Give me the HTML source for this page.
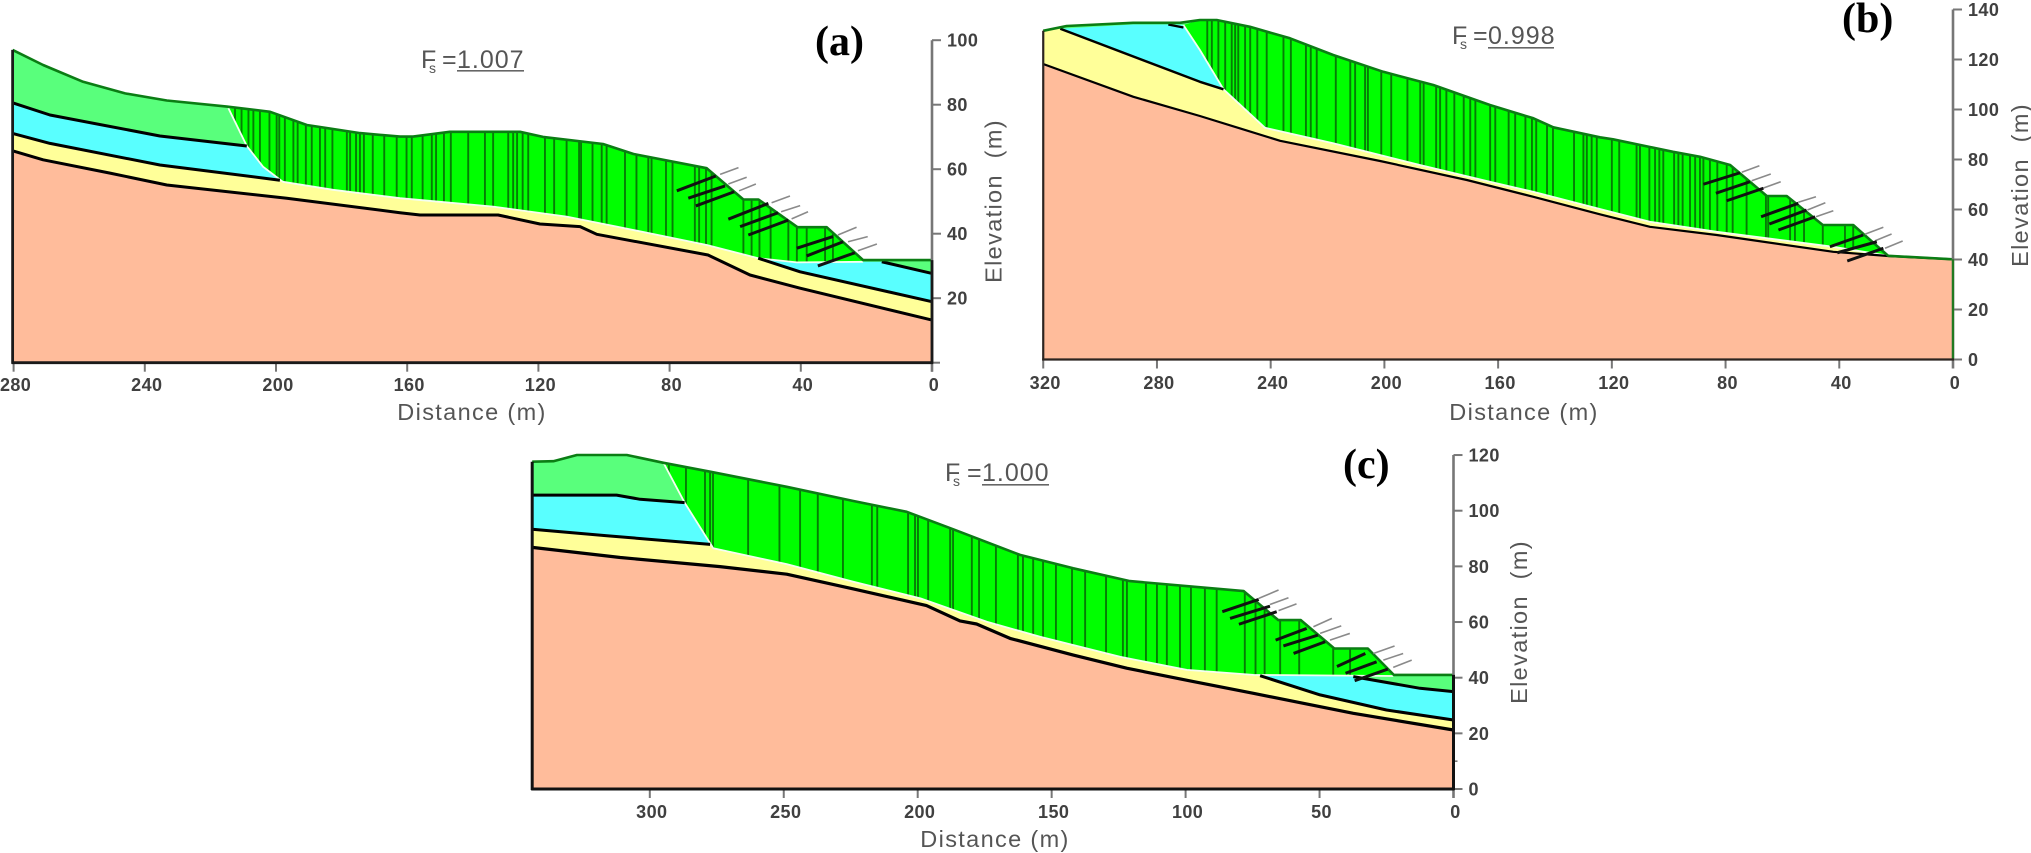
<!DOCTYPE html>
<html lang="en">
<head>
<meta charset="utf-8">
<title>Slope stability sections (a), (b), (c)</title>
<style>
html,body{margin:0;padding:0;background:#fff;}
svg{display:block;}
.axis-title{font-family:"Liberation Sans",sans-serif;font-size:23.5px;fill:#555;letter-spacing:1.35px;text-anchor:middle;}
.fs{font-family:"Liberation Sans",sans-serif;font-size:25px;fill:#555;}
.fs-sub{font-family:"Liberation Sans",sans-serif;font-size:14px;fill:#555;}
.fs-val{font-family:"Liberation Sans",sans-serif;font-size:25px;fill:#555;letter-spacing:1px;text-decoration:none;}
.panel-tag{font-family:"Liberation Serif",serif;font-weight:bold;font-size:42px;fill:#000;}
.tick-label{font-family:"Liberation Sans",sans-serif;font-weight:bold;font-size:18px;fill:#404040;letter-spacing:.4px;}
</style>
</head>
<body>
<svg id="figure" xmlns="http://www.w3.org/2000/svg" width="2031" height="853" viewBox="0 0 2031 853">
  <rect x="0" y="0" width="2031" height="853" fill="#fff"/>
  <g id="panel-a"></g>
  <g id="panel-b"></g>
  <g id="panel-c"></g>

  <text class="panel-tag" x="815" y="55">(a)</text>
  <text class="panel-tag" x="1842" y="32">(b)</text>
  <text class="panel-tag" x="1343" y="478">(c)</text>

  <g>
    <text class="fs" x="421" y="68">F</text><text class="fs-sub" x="429" y="73">s</text><text class="fs" x="442" y="68">=</text>
    <text class="fs-val" x="457" y="68">1.007</text>
    <rect x="457" y="70" width="67" height="1.6" fill="#666"/>
  </g>
  <g>
    <text class="fs" x="1452" y="44">F</text><text class="fs-sub" x="1460" y="49">s</text><text class="fs" x="1473" y="44">=</text>
    <text class="fs-val" x="1488" y="44">0.998</text>
    <rect x="1488" y="47" width="66" height="1.6" fill="#666"/>
  </g>
  <g>
    <text class="fs" x="945" y="481">F</text><text class="fs-sub" x="953" y="486">s</text><text class="fs" x="967" y="481">=</text>
    <text class="fs-val" x="982" y="481">1.000</text>
    <rect x="982" y="484" width="67" height="1.6" fill="#666"/>
  </g>

  <text class="axis-title" x="472" y="420">Distance (m)</text>
  <text class="axis-title" x="1524" y="420">Distance (m)</text>
  <text class="axis-title" x="995" y="847">Distance (m)</text>
  <text class="axis-title" transform="translate(1001.5,201) rotate(-90)">Elevation&#160;&#160;(m)</text>
  <text class="axis-title" transform="translate(2028,185) rotate(-90)">Elevation&#160;&#160;(m)</text>
  <text class="axis-title" transform="translate(1527,622) rotate(-90)">Elevation&#160;&#160;(m)</text>
</svg>

<script>
/* ---------- Panel (a) values: [distance m, elevation m] ---------- */
const aDistanceTicks = [280, 240, 200, 160, 120, 80, 40, 0];
const aElevationTicks = [100, 80, 60, 40, 20];
const aElevationLabels = ["100", "80", "60", "40", "20"];
const aMinorTicks = [];
const aSurface = [[280.3,97],[271,92.3],[258.8,87.1],[246,83.5],[233.3,81.3],[215,79.4],[201.8,77.8],[190.6,73.7],[174.4,71.2],[162.2,70.1],[158.2,70.1],[147,71.6],[125.6,71.6],[118.6,70],[100.3,67.8],[91,64.7],[68.7,60.3],[57.5,50.6],[52.9,50.6],[41,42],[32.1,42],[21,31.8],[0,31.8]];
const aLightBaseLeft = [[280.3,80.6],[268.9,76.8],[235.4,70.3],[208.9,67.2]];
const aLightBaseRight = [[15.3,31.3],[0,27.7]];
const aCyanBaseLeft = [[280.3,71.1],[268.9,68],[235.4,61.3],[198.8,56.6]];
const aCyanBaseRight = [[53,32.4],[40.2,28.2],[0,18.9]];
const aRockTop = [[280.3,65.7],[271,62.9],[250.6,58.8],[233.3,55.1],[196.7,51],[162.2,46.5],[156.1,45.8],[132.3,45.8],[119.5,43],[107.3,42.2],[102.2,39.8],[68.3,33.4],[55.5,27.2],[40.2,23.1],[0,13.2]];
const aSlip = [[214.5,78.9],[208.9,67.2],[203.9,60.7],[197.9,56.1],[182.6,53.6],[162.2,51],[150,49.9],[133.8,48.4],[111.4,45.3],[96.1,42.2],[68.7,36.5],[53,32.4],[41.2,31.1],[21,31.3]];
const aSlices = [212.5,210.5,208.4,206.9,204.9,202,199.8,199,197.3,194.7,193.4,190.9,189.1,186.6,185,182.8,178.4,177.4,175.6,174.4,173.2,170.5,167,163.2,160.2,158.6,155.3,152.5,151.2,148.8,146.7,141.4,136.3,133.8,129.2,127.7,126.5,124.8,123.1,118,115.2,111.4,107.6,107,103.5,100.7,99.2,93.6,90.1,86.5,85.5,81.1,79.1,72.3,71,68.9,67.2,57.5,55,52.6,49.2,43.8,41.2,38.2,32.6,30.2];
const aAnchors = [[77.8,53.3,65.9,57.9],[74.3,51,63.1,54.8],[72,48.6,60.3,53],[62.1,44.5,49.9,49.4],[58.5,42.2,46.9,46.5],[56,39.6,43.8,44.2],[41.2,35.5,30.2,39.1],[38.2,33.1,27.1,37.5],[34.8,30,23.5,34.1]];
const aAnchorHeads = [[64.6,58.4,59,60.5],[62.1,55.4,56.5,57.5],[58.8,53.3,53.7,55.4],[48.9,49.6,43.3,51.7],[46,46.8,40.2,48.7],[42.8,44.6,37.8,46.8],[28.7,39.6,23,42],[25.6,37.5,19.6,39.1],[22.6,34.7,16.8,36.8]];

/* ---------- Panel (b) values ---------- */
const bDistanceTicks = [320, 280, 240, 200, 160, 120, 80, 40, 0];
const bElevationTicks = [140, 120, 100, 80, 60, 40, 20, 0];
const bElevationLabels = ["140", "120", "100", "80", "60", "40", "20", "0"];
const bMinorTicks = [];
const bSurface = [[320,131.5],[311.8,133.4],[288.4,134.7],[271.9,134.7],[264.9,135.8],[259,135.8],[247.3,133.1],[233.2,128.5],[218,121.8],[200.4,115.1],[182.8,109.8],[162.9,101.8],[147.6,96.5],[140.6,92.9],[124.2,88.9],[119.6,88.1],[98.5,83.1],[89,81.1],[78.4,77.8],[65.5,65.4],[58.5,65.4],[45.8,53.8],[35.1,53.8],[22.8,41.5],[0,40.1]];
const bLightBaseLeft = [[314,132.3],[288.4,134],[272,134],[270.7,133.8]];
const bLightBaseLine = [[276,134],[270.7,132.8]];
const bLightBaseRight = [];
const bCyanBaseLeft = [[320,131.5],[314,132.3],[264.9,111.1],[256.6,108.1]];
const bCyanBaseLine = [[314,132.3],[264.9,111.1],[256.6,108.1]];
const bCyanBaseRight = [];
const bRockTop = [[320,118.2],[288.3,105.1],[264.9,97.4],[236.7,87.5],[201.5,79.4],[171,71.8],[147.6,65.1],[124.2,58.1],[106.6,53.1],[83.1,49.8],[42.1,43.1],[22.8,41.4],[0,40.1]];
const bSlip = [[270.7,133.8],[264.9,123.8],[256.6,108.1],[242,92.7],[218,86.5],[187.5,77.8],[162.9,71.1],[147.7,67.1],[124.2,60.2],[106.6,55.1],[83.1,51.1],[42.1,45.1],[22.8,41.5]];
const bSlices = [262.3,260.7,258.4,256,253.7,252.5,251.4,249,247.2,244.7,241.4,235.5,232.9,227.6,225.9,223.8,217.1,212,210.3,206.8,205.8,201.1,197.6,191.9,187.4,186.2,181.8,180.4,178.2,175.4,172.1,169.8,168,162.8,161,156.3,154,150.4,148.1,146.6,142.8,140.7,133.3,130,128.8,127.1,125.3,120,117.4,111.3,110.1,106.8,104.8,103.3,101.9,98.1,96.6,95.1,92.5,90.7,89,87.8,85.5,82.9,79.6,77.5,72.6,65.8,65,57.3,55.6,52.4,45.8,38,35.1];
const bAnchors = [[87.8,70.1,74.9,74.7],[83.4,66.5,71.4,71.1],[79.6,63.5,66.7,68.5],[67.5,57.1,54.4,62.5],[64.6,54.2,51.5,59.8],[61.4,51.8,48.5,57.1],[43.3,45.1,31.6,49.8],[40.7,42.7,26.8,47.1],[37.2,39.4,24.5,44.5]];
const bAnchorHeads = [[74.3,74.9,68.1,77.5],[70.8,71.5,64.1,74.2],[66.9,68.5,60.6,71.1],[54.4,62.9,48.2,65.1],[51.2,59.8,44.9,62.7],[48.2,57.1,42.1,59.5],[31,50.1,24.5,52.9],[27.4,47.5,21.6,50.2],[23.9,44.5,17.7,47.4]];

/* ---------- Panel (c) values ---------- */
const cDistanceTicks = [300, 250, 200, 150, 100, 50, 0];
const cElevationTicks = [120, 100, 80, 60, 40, 20, 0];
const cElevationLabels = ["120", "100", "80", "60", "40", "20", "0"];
const cMinorTicks = [10];
const cSurface = [[343.9,117.6],[336,117.8],[327.2,120],[308.6,120],[294.9,117.2],[277.5,114],[248.9,108.6],[224,103.5],[204.1,99.6],[186.7,93.3],[161.8,84.1],[141.9,79.3],[120.8,74.7],[97.1,72.7],[78.3,71.1],[65.4,60.7],[57,60.7],[44.5,50.5],[32,50.5],[22.3,41],[0,41]];
const cLightBaseLeft = [[343.9,105.6],[312.4,105.6],[303.6,104.1],[287,102.9]];
const cLightBaseRight = [[37.4,40.4],[12.5,36.2],[0,35]];
const cCyanBaseLeft = [[343.9,93.3],[316,91],[277.5,87.9]];
const cCyanBaseRight = [[72.2,40.7],[49.8,33.8],[25,28.4],[0,24.8]];
const cRockTop = [[343.9,86.8],[311,83.2],[273.8,79.9],[248.9,77.2],[224,71.9],[196.7,65.9],[184.2,60.4],[178,59.3],[165.5,54.1],[141.9,48.1],[122,43.4],[97.1,38.6],[74.7,34.4],[37.4,27.2],[0,21.2]];
const cSlip = [[294.9,117.2],[287,102.9],[276.3,86.5],[248.9,80.8],[224,74.5],[199,68.5],[174.2,60.1],[154.3,54.7],[124.5,47.5],[99.5,42.8],[74.7,41],[22.5,40.6]];
const cSlices = [292.9,286.5,279.4,277.5,276.4,263.3,251.6,243.9,237.3,227.9,217.1,215.1,203.6,201,199.9,196.1,187.9,186.8,179.8,177.1,170.8,162.6,160.7,156.9,153.2,148.4,142.4,137.5,129.7,123.4,121.9,114.8,110.7,107,102.1,98,92.8,88.4,77.9,73.9,70.5,64.7,57.6,44.9,38.6];
const cAnchors = [[86.3,63.7,72.7,68.1],[83.4,61.3,68.5,65.7],[80.1,59.2,66,63.7],[66.4,53.5,54.8,57.7],[63.5,51.4,50.6,55.3],[59.7,48.7,47.9,52.9],[43.5,44,32.9,48.7],[40.3,41.6,28.7,45.7],[36.9,38.9,24.5,43.1]];
const cAnchorHeads = [[72.7,68.5,65.3,71.5],[68.5,66.3,61.6,68.7],[65.3,64.1,58.6,66.5],[52.3,58.3,45.4,61.3],[49.8,55.9,41.9,58.6],[46.1,53.5,38.7,55.9],[29.9,48.7,22,51.4],[26.2,46.3,18.8,48.7],[22.5,43.7,15.6,46.3]];

/* ---------- Drawing ---------- */
const SVGNS = "http://www.w3.org/2000/svg";

function scaleX(layout, d) { return layout.x0 - d * layout.pxPerM; }
function scaleY(layout, e) { return layout.y0 - e * layout.pxPerUnit; }

function interp(points, d) {
  for (let i = 0; i < points.length - 1; i++) {
    const p = points[i], q = points[i + 1];
    if (d <= p[0] && d >= q[0]) {
      const t = p[0] === q[0] ? 0 : (p[0] - d) / (p[0] - q[0]);
      return p[1] + t * (q[1] - p[1]);
    }
  }
  return points[points.length - 1][1];
}

function pathOf(layout, points) {
  return points.map(function (p) {
    return scaleX(layout, p[0]).toFixed(1) + "," + scaleY(layout, p[1]).toFixed(1);
  }).join(" ");
}

function addArea(parent, layout, top, fill, name) {
  const el = document.createElementNS(SVGNS, "polygon");
  
  
  const closed = top.concat([[top[top.length - 1][0], 0], [top[0][0], 0]]);
  el.setAttribute("points", pathOf(layout, closed));
  el.setAttribute("fill", fill);
  parent.appendChild(el);
}

function addLine(parent, layout, points, color, width, name) {
  if (!points.length) return;
  const el = document.createElementNS(SVGNS, "polyline");
  
  
  el.setAttribute("points", pathOf(layout, points));
  el.setAttribute("fill", "none");
  el.setAttribute("stroke", color);
  el.setAttribute("stroke-width", width);
  el.setAttribute("stroke-linejoin", "round");
  parent.appendChild(el);
}

function addRule(parent, x1, y1, x2, y2, color, width, name) {
  const el = document.createElementNS(SVGNS, "line");
  
  
  el.setAttribute("x1", x1);
  el.setAttribute("y1", y1);
  el.setAttribute("x2", x2);
  el.setAttribute("y2", y2);
  el.setAttribute("stroke", color);
  el.setAttribute("stroke-width", width);
  parent.appendChild(el);
}

function addLabel(parent, x, y, anchor, str, name) {
  const el = document.createElementNS(SVGNS, "text");
  
  
  el.setAttribute("class", "tick-label");
  el.setAttribute("x", x);
  el.setAttribute("y", y);
  el.setAttribute("text-anchor", anchor);
  el.textContent = str;
  parent.appendChild(el);
}

function drawPanel(id, layout, s) {
  const g = document.getElementById("panel-" + id);
  const slipStart = s.slip[0][0];
  const slipEnd = s.slip[s.slip.length - 1][0];

  const lightEnd = s.lightL[s.lightL.length - 1][0];
  const lightRight = s.lightR.length ? s.lightR[0][0] : -1;
  const cyanTop = s.lightL.concat(
    s.slip.filter(function (p) { return p[0] < lightEnd && p[0] > lightRight; }),
    s.lightR
  );
  const cyanEnd = s.cyanL[s.cyanL.length - 1][0];
  const cyanRight = s.cyanR.length ? s.cyanR[0][0] : -1;
  const yellowTop = s.cyanL.concat(
    s.slip.filter(function (p) { return p[0] < cyanEnd && p[0] > cyanRight; }),
    s.cyanR
  );

  addArea(g, layout, s.surface, "#59ff7c", "upper-layer-" + id);
  addArea(g, layout, cyanTop, "#59ffff", "middle-layer-" + id);
  addArea(g, layout, yellowTop, "#ffff99", "lower-layer-" + id);
  addArea(g, layout, s.rock, "#ffbc9b", "bedrock-" + id);

  const massTop = [s.slip[0]].concat(
    s.surface.filter(function (p) { return p[0] < slipStart && p[0] > slipEnd; }),
    [s.slip[s.slip.length - 1]]
  );
  const mass = document.createElementNS(SVGNS, "polygon");
  
  
  mass.setAttribute("points", pathOf(layout, massTop.concat(s.slip.slice().reverse())));
  mass.setAttribute("fill", "#00ff00");
  g.appendChild(mass);

  s.slices.forEach(function (d) {
    addRule(g, scaleX(layout, d), scaleY(layout, interp(s.surface, d)),
      scaleX(layout, d), scaleY(layout, interp(s.slip, d)), "#067c06", 1.9, "slice-line");
  });

  addLine(g, layout, s.slip, "#f4fff0", 1.8, "slip-surface-" + id);
  addLine(g, layout, s.lightLine, "#000", layout.layerWidth, "upper-layer-base-" + id);
  addLine(g, layout, s.lightR, "#000", layout.layerWidth, "upper-layer-base-right-" + id);
  addLine(g, layout, s.cyanLine, "#000", layout.layerWidth, "middle-layer-base-" + id);
  addLine(g, layout, s.cyanR, "#000", layout.layerWidth, "middle-layer-base-right-" + id);
  addLine(g, layout, s.rock, "#000", layout.rockWidth, "bedrock-top-" + id);
  addLine(g, layout, s.surface, "#0b7d14", 2.6, "ground-surface-" + id);

  s.heads.forEach(function (a) {
    addRule(g, scaleX(layout, a[0]), scaleY(layout, a[1]), scaleX(layout, a[2]), scaleY(layout, a[3]), "#8a8a8a", 1.6, "anchor-head");
  });
  s.anchors.forEach(function (a) {
    addRule(g, scaleX(layout, a[0]), scaleY(layout, a[1]), scaleX(layout, a[2]), scaleY(layout, a[3]), "#111", 3, "anchor-bar");
  });

  /* axes */
  const xL = scaleX(layout, s.surface[0][0]);
  const xR = scaleX(layout, 0);
  const yB = scaleY(layout, 0);
  const topTick = s.yTicks[0];
  s.xTicks.forEach(function (t, i) {
    addRule(g, scaleX(layout, t), yB, scaleX(layout, t), yB + 9, "#777", 2, "x-tick");
    addLabel(g, scaleX(layout, t) + 2, layout.xLabelY, "middle", String(s.xTicks[i]), "x-tick-label");
  });
  addRule(g, xR, scaleY(layout, topTick), xR, yB + 9, "#777", 2.6, "y-axis-line-" + id);
  addRule(g, xR, yB, xR + 8, yB, "#777", 2, "y-tick-zero");
  s.yTicks.forEach(function (t, i) {
    addRule(g, xR, scaleY(layout, t), xR + 9, scaleY(layout, t), "#777", 2, "y-tick");
    addLabel(g, xR + 15, scaleY(layout, t) + 6.5, "start", s.yLabels[i], "y-tick-label");
  });
  s.minor.forEach(function (t) {
    addRule(g, xR, scaleY(layout, t), xR + 4, scaleY(layout, t), "#777", 1.6, "y-minor-tick");
  });

  addRule(g, xL, scaleY(layout, s.surface[0][1]), xL, yB + 1, layout.edgeColor, layout.edgeWidth, "left-edge-" + id);
  addRule(g, xR, scaleY(layout, s.surface[s.surface.length - 1][1]), xR, yB + 1, layout.rightColor, layout.edgeWidth, "right-edge-" + id);
  addRule(g, xL - 1, yB, xR + 1, yB, layout.edgeColor, layout.edgeWidth, "x-axis-line-" + id);
}

drawPanel("a",
  { x0: 932, pxPerM: 3.28, y0: 362.7, pxPerUnit: 3.225, xLabelY: 391, layerWidth: 3, rockWidth: 3, edgeColor: "#1a1a1a", rightColor: "#1a1a1a", edgeWidth: 2.8 },
  { surface: aSurface, lightL: aLightBaseLeft, lightLine: aLightBaseLeft, lightR: aLightBaseRight, cyanL: aCyanBaseLeft, cyanLine: aCyanBaseLeft, cyanR: aCyanBaseRight, rock: aRockTop, slip: aSlip, slices: aSlices, anchors: aAnchors, heads: aAnchorHeads, xTicks: aDistanceTicks, yTicks: aElevationTicks, yLabels: aElevationLabels, minor: aMinorTicks });

drawPanel("b",
  { x0: 1953, pxPerM: 2.843, y0: 359.5, pxPerUnit: 2.5, xLabelY: 389, layerWidth: 2.4, rockWidth: 2.2, edgeColor: "#2c2420", rightColor: "#217a21", edgeWidth: 2.2 },
  { surface: bSurface, lightL: bLightBaseLeft, lightLine: bLightBaseLine, lightR: bLightBaseRight, cyanL: bCyanBaseLeft, cyanLine: bCyanBaseLine, cyanR: bCyanBaseRight, rock: bRockTop, slip: bSlip, slices: bSlices, anchors: bAnchors, heads: bAnchorHeads, xTicks: bDistanceTicks, yTicks: bElevationTicks, yLabels: bElevationLabels, minor: bMinorTicks });

drawPanel("c",
  { x0: 1453.5, pxPerM: 2.679, y0: 789, pxPerUnit: 2.783, xLabelY: 818, layerWidth: 3, rockWidth: 3.2, edgeColor: "#111", rightColor: "#111", edgeWidth: 3 },
  { surface: cSurface, lightL: cLightBaseLeft, lightLine: cLightBaseLeft, lightR: cLightBaseRight, cyanL: cCyanBaseLeft, cyanLine: cCyanBaseLeft, cyanR: cCyanBaseRight, rock: cRockTop, slip: cSlip, slices: cSlices, anchors: cAnchors, heads: cAnchorHeads, xTicks: cDistanceTicks, yTicks: cElevationTicks, yLabels: cElevationLabels, minor: cMinorTicks });
</script>
</body>
</html>
